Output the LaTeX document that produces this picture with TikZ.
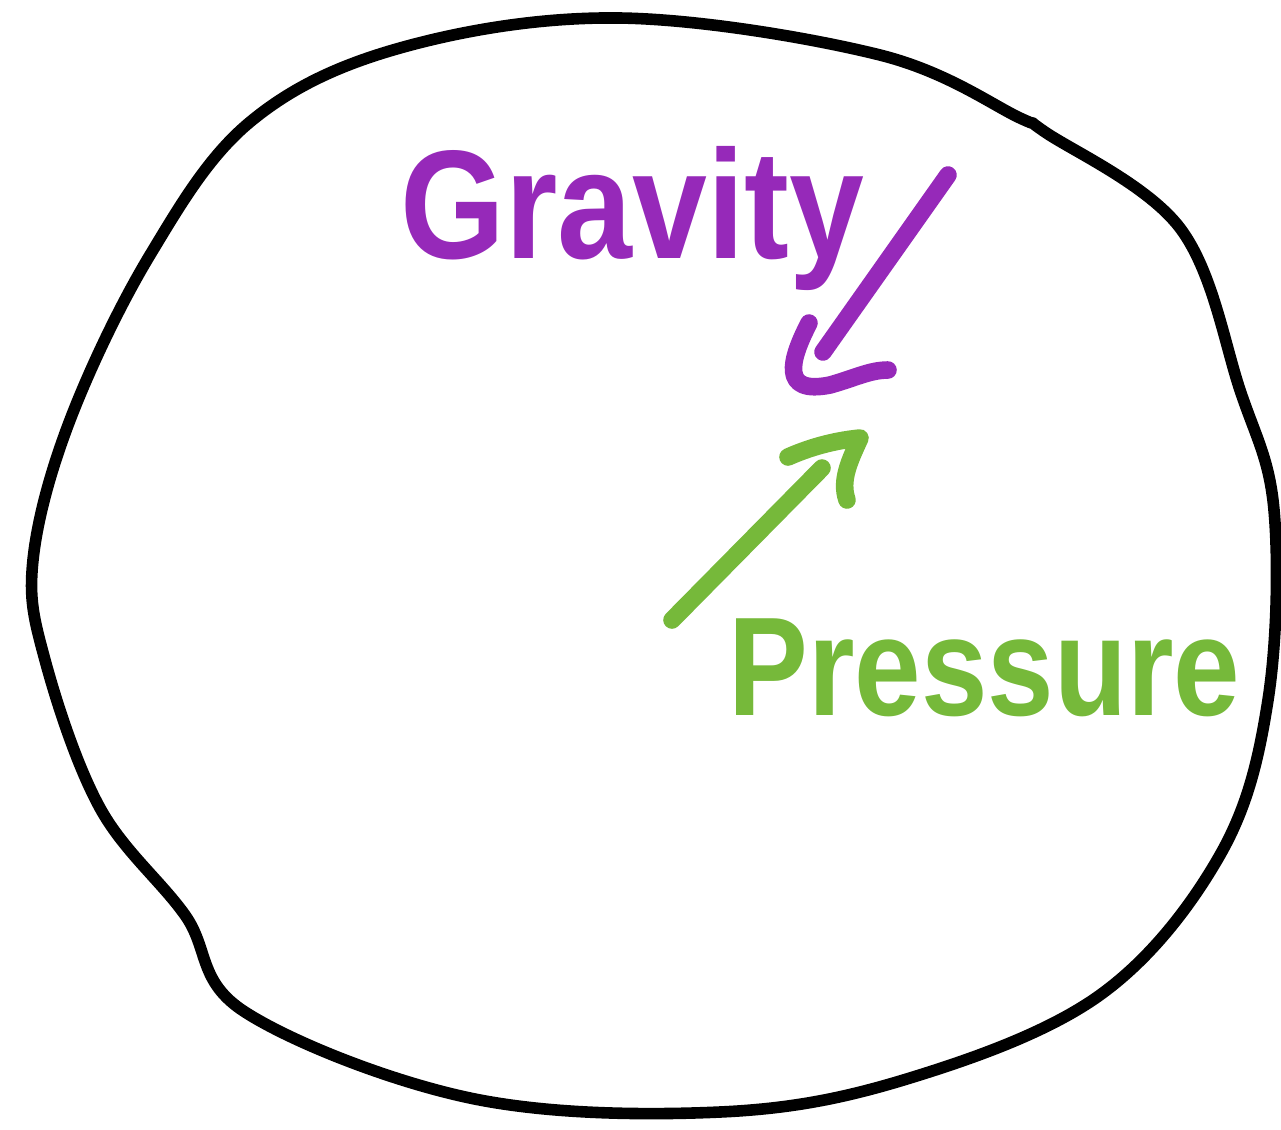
\documentclass[tikz,border=0pt]{standalone}
\usepackage{fontspec}
\setmainfont{Liberation Sans}
\usepackage{xcolor}
\definecolor{gravpurple}{RGB}{150, 41,185}
\definecolor{presgreen} {RGB}{118,185, 58}

\begin{document}
\begin{tikzpicture}[
    x=0.01cm, y=-0.01cm,
    outline/.style={draw=black, line width=3.3pt, line join=round},
    pen/.style={line width=5pt, line cap=round, line join=round},
    word/.style={inner sep=0pt, anchor=base west, font=\bfseries}
]
    \useasboundingbox (0,0) rectangle (1281,1129);

    % --- the body (wobbly hand-drawn circle) ---
    \draw[outline] plot[smooth cycle, tension=0.6] coordinates {
        (620,18) (880,55) (1020,118) (1045,132) (1180,228) (1240,390)
        (1274,510) (1268,700) (1220,855) (1100,995) (910,1078) (720,1112)
        (470,1098) (245,1012) (185,915) (100,808) (45,660) (33,560)
        (70,420) (150,255) (250,122) (400,48)};

    % --- labels ---
    \node[word, text=gravpurple] (gravity) at (400,258)
        {\scalebox{0.87}[1]{\fontsize{44}{50}\selectfont Gravity}};
    \node[word, text=presgreen] (pressure) at (728,715)
        {\scalebox{0.85}[1]{\fontsize{40}{46}\selectfont Pressure}};

    % --- arrow ends ---
    \coordinate (g_tail) at (948,175);
    \coordinate (g_tip) at (823,352);
    \coordinate (p_tail) at (672,620);
    \coordinate (p_tip) at (822,468);

    % --- gravity arrow (purple) ---
    \draw[pen, gravpurple] (g_tail) -- (g_tip);
    \draw[pen, gravpurple] (809,323) .. controls (790,360) and (780,395) .. (830,385)
        .. controls (855,378) and (870,370) .. (888,370);

    % --- pressure arrow (green) ---
    \draw[pen, presgreen] (p_tail) -- (p_tip);
    \draw[pen, presgreen] (788,457) .. controls (815,445) and (840,440) .. (860,438)
        .. controls (850,460) and (840,480) .. (847,500);

\end{tikzpicture}
\end{document}
